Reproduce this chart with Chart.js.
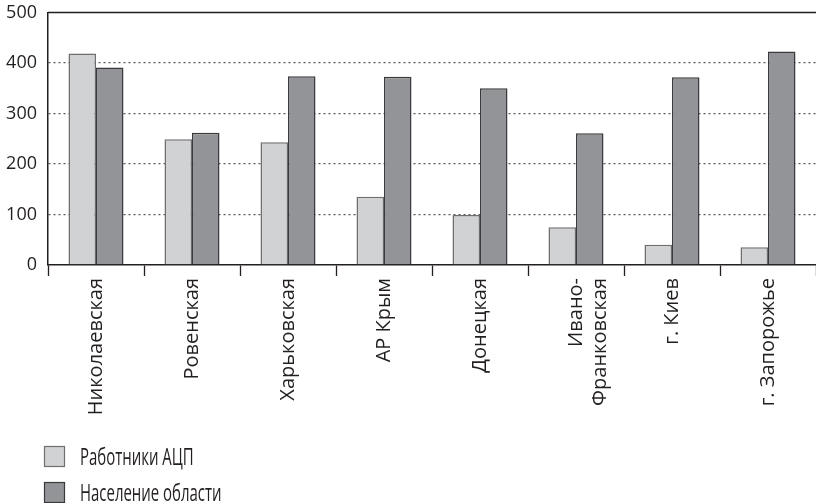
<!DOCTYPE html>
<html>
<head>
<meta charset="utf-8">
<script src="https://cdn.jsdelivr.net/npm/chart.js@4/dist/chart.umd.min.js"></script>
<style>
  html, body { margin: 0; padding: 0; background: #fff; }
  canvas { display: block; }
</style>
</head>
<body>
<canvas id="chart" width="816" height="503"></canvas>
<script>
// Regions (the Ivano-Frankivsk label is split over two lines)
const regions = [
    'Николаевская', 'Ровенская', 'Харьковская', 'АР Крым',
    'Донецкая', ['Ивано-', 'Франковская'], 'г. Киев', 'г. Запорожье'
];
const seriesNames = ['Работники АЦП', 'Население области'];
const workers = [419, 249, 243, 135, 99, 75, 40, 35];
const population = [391, 262, 374, 373, 350, 261, 372, 423];
const yTicks = [0, 100, 200, 300, 400, 500];

const INK = '#231f20';
const LIGHT = '#d1d2d4';
const DARK = '#939497';

// Solid frame line along the top of the plot area
const topLine = {
    id: 'topLine',
    afterDraw(chart) {
        const { ctx, chartArea } = chart;
        ctx.save();
        ctx.strokeStyle = INK;
        ctx.lineWidth = 1.5;
        ctx.beginPath();
        ctx.moveTo(chartArea.left, chartArea.top);
        ctx.lineTo(chartArea.right, chartArea.top);
        ctx.stroke();
        ctx.restore();
    }
};

// Stacked legend under the category labels, narrow lettering
const stackedLegend = {
    id: 'stackedLegend',
    afterDraw(chart) {
        const ctx = chart.ctx;
        chart.data.datasets.forEach((ds, i) => {
            const y = 446 + i * 36;
            ctx.save();
            ctx.fillStyle = ds.backgroundColor;
            ctx.strokeStyle = ds.borderColor;
            ctx.lineWidth = 1.2;
            ctx.fillRect(44, y, 21, 21);
            ctx.strokeRect(44.5, y + 0.5, 20, 20);
            ctx.fillStyle = INK;
            ctx.font = '23px "Open Sans"';
            ctx.textBaseline = 'alphabetic';
            ctx.translate(80, y + 19);
            ctx.scale(0.65, 1);
            ctx.fillText(ds.label, 0, 0);
            ctx.restore();
        });
    }
};

new Chart(document.getElementById('chart'), {
    type: 'bar',
    data: {
        labels: regions,
        datasets: [
            {
                label: seriesNames[0],
                data: workers,
                backgroundColor: LIGHT,
                borderColor: '#6d6e70',
                borderWidth: 1.5
            },
            {
                label: seriesNames[1],
                data: population,
                backgroundColor: DARK,
                borderColor: '#3a3a3c',
                borderWidth: 1.5
            }
        ]
    },
    options: {
        responsive: false,
        animation: false,
        categoryPercentage: 0.573,
        barPercentage: 1,
        layout: { padding: { top: 12.5, left: 0, right: 0, bottom: 0 } },
        plugins: {
            legend: { display: false },
            tooltip: { enabled: false }
        },
        scales: {
            x: {
                afterFit(scale) { scale.height = 238; },
                grid: {
                    offset: true,
                    drawOnChartArea: false,
                    drawTicks: true,
                    tickLength: 11,
                    tickColor: INK,
                    tickWidth: 1.3
                },
                border: { color: INK, width: 1.5 },
                ticks: {
                    maxRotation: 90,
                    minRotation: 90,
                    padding: 2,
                    color: INK,
                    font: { family: '"Open Sans"', size: 20 }
                }
            },
            y: {
                min: 0,
                max: 500,
                afterFit(scale) {
                    scale.width = 48;
                    scale.paddingTop = 0;
                    scale.paddingBottom = 0;
                },
                afterBuildTicks(scale) {
                    scale.ticks = yTicks.map(v => ({ value: v }));
                },
                grid: {
                    drawTicks: false,
                    lineWidth: 1.3,
                    color: c => (c.tick && c.tick.value > 0 && c.tick.value < 500) ? '#58595b' : 'rgba(0,0,0,0)'
                },
                border: { color: INK, width: 1.5, dash: [2, 3] },
                ticks: {
                    padding: 11,
                    color: INK,
                    font: { family: '"Open Sans"', size: 18 }
                }
            }
        }
    },
    plugins: [topLine, stackedLegend]
});
</script>
</body>
</html>
